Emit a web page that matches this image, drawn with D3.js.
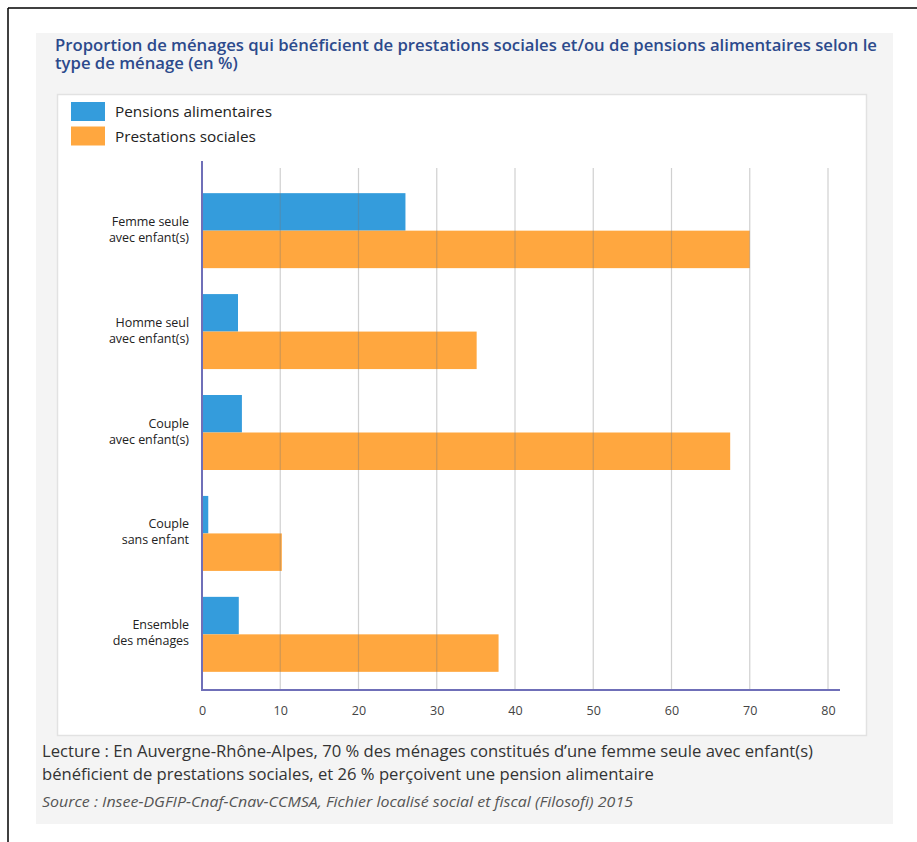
<!DOCTYPE html>
<html>
<head>
<meta charset="utf-8">
<script src="https://cdn.jsdelivr.net/npm/d3@7"></script>
<style>
  html, body { margin: 0; padding: 0; background: #fff; }
  svg { display: block; }
</style>
</head>
<body>
<svg id="chart" width="917" height="842"></svg>
<script>
const categories = [
  ["Femme seule", "avec enfant(s)"],
  ["Homme seul", "avec enfant(s)"],
  ["Couple", "avec enfant(s)"],
  ["Couple", "sans enfant"],
  ["Ensemble", "des ménages"]
];
const seriesNames = ["Pensions alimentaires", "Prestations sociales"];
const pensions = [26.0, 4.6, 5.1, 0.8, 4.7];
const prestations = [70.0, 35.1, 67.5, 10.2, 37.9];
const xTicks = [0, 10, 20, 30, 40, 50, 60, 70, 80];
const colors = ["#349cdc", "#ffa73f"];
const titleLines = [
  "Proportion de ménages qui bénéficient de prestations sociales et/ou de pensions alimentaires selon le",
  "type de ménage (en %)"
];
const noteLines = [
  "Lecture : En Auvergne-Rhône-Alpes, 70 % des ménages constitués d’une femme seule avec enfant(s)",
  "bénéficient de prestations sociales, et 26 % perçoivent une pension alimentaire"
];
const sourceText = "Source : Insee-DGFIP-Cnaf-Cnav-CCMSA, Fichier localisé social et fiscal (Filosofi) 2015";

const svg = d3.select("#chart");
const font = "'Open Sans', 'Noto Sans', sans-serif";

// scale a group of text nodes horizontally so that the reference node gets the target width
function fitGroup(nodes, refNode, target) {
  const r = target / refNode.getComputedTextLength();
  nodes.forEach(n => {
    const w = n.getComputedTextLength();
    d3.select(n).attr("textLength", w * r).attr("lengthAdjust", "spacingAndGlyphs");
  });
}

// outer frame lines (top and left)
svg.append("line").attr("x1", 8).attr("x2", 917).attr("y1", 8).attr("y2", 8)
  .attr("stroke", "#000").attr("stroke-width", 1.5);
svg.append("line").attr("x1", 8).attr("x2", 8).attr("y1", 8).attr("y2", 842)
  .attr("stroke", "#000").attr("stroke-width", 1.5);

// gray panel
svg.append("rect").attr("x", 36).attr("y", 33).attr("width", 857).attr("height", 791)
  .attr("fill", "#f4f4f4");

// title
const titleNodes = titleLines.map((t, i) =>
  svg.append("text").attr("x", 55).attr("y", 51 + i * 18)
    .attr("font-family", font).attr("font-weight", 600)
    .attr("font-size", 17).attr("fill", "#2c4a8c").text(t).node());
fitGroup(titleNodes, titleNodes[0], 822);

// white chart box
svg.append("rect").attr("x", 57.5).attr("y", 94.5).attr("width", 809).attr("height", 641)
  .attr("fill", "#fff").attr("stroke", "#e2e2e2").attr("stroke-width", 1.5);

// legend
const legend = svg.append("g");
const legNodes = [];
seriesNames.forEach((name, i) => {
  legend.append("rect").attr("x", 71).attr("y", 102 + i * 24.5).attr("width", 34).attr("height", 19)
    .attr("fill", colors[i]);
  legNodes.push(legend.append("text").attr("x", 115).attr("y", 117 + i * 24.5)
    .attr("font-family", font).attr("font-size", 14.5).attr("fill", "#222").text(name).node());
});
fitGroup(legNodes, legNodes[0], 157);

// scales
const x = d3.scaleLinear().domain([0, 80]).range([202, 828]);
const y = d3.scaleBand().domain(d3.range(categories.length)).range([175, 690])
  .paddingInner(0.257).paddingOuter(0.18);
const sub = d3.scaleBand().domain([0, 1]).range([0, y.bandwidth()]);

// bars
const data = categories.map((c, i) => ({ i, vals: [pensions[i], prestations[i]] }));
const groups = svg.append("g").selectAll("g").data(data).join("g")
  .attr("transform", d => `translate(0,${y(d.i)})`);
groups.selectAll("rect").data(d => d.vals.map((v, k) => ({ v, k }))).join("rect")
  .attr("x", x(0)).attr("y", d => sub(d.k)).attr("height", sub.bandwidth())
  .attr("width", d => x(d.v) - x(0)).attr("fill", d => colors[d.k]);

// gridlines (drawn over bars, semi-transparent)
svg.append("g").selectAll("line").data(xTicks.slice(1)).join("line")
  .attr("x1", d => x(d)).attr("x2", d => x(d)).attr("y1", 168).attr("y2", 690)
  .attr("stroke", "rgba(120,120,120,0.35)").attr("stroke-width", 1.2);

// axes lines
svg.append("line").attr("x1", x(0)).attr("x2", x(0)).attr("y1", 161).attr("y2", 691)
  .attr("stroke", "#6f6fb8").attr("stroke-width", 2);
svg.append("line").attr("x1", x(0) - 1).attr("x2", 840).attr("y1", 690).attr("y2", 690)
  .attr("stroke", "#6f6fb8").attr("stroke-width", 2);

// x axis tick labels via d3 axis
const xAxis = d3.axisBottom(x).tickValues(xTicks).tickSize(0).tickPadding(0).tickFormat(d3.format("d"));
const xg = svg.append("g").attr("transform", "translate(0,706)").call(xAxis);
xg.select(".domain").remove();
xg.selectAll("text").attr("font-family", font).attr("font-size", 12.5).attr("fill", "#444")
  .attr("dy", "0.71em");

// y labels
const yl = svg.append("g");
categories.forEach((lines, i) => {
  const cy = y(i) + y.bandwidth() / 2;
  lines.forEach((ln, j) => {
    yl.append("text").attr("text-anchor", "end")
      .attr("font-family", font).attr("font-size", 12.5).attr("fill", "#222")
      .attr("letter-spacing", -0.05)
      .attr("x", 189).attr("y", cy - 5 + j * 16).text(ln);
  });
});

// notes
const noteNodes = noteLines.map((t, i) =>
  svg.append("text").attr("x", 42).attr("y", 757 + i * 23)
    .attr("font-family", font).attr("font-size", 15.5).attr("fill", "#333")
    .text(t).node());
fitGroup(noteNodes, noteNodes[0], 771);

const srcNode = svg.append("text").attr("x", 42).attr("y", 807)
  .attr("font-family", font).attr("font-size", 14.5).attr("font-style", "italic")
  .attr("fill", "#555").text(sourceText).node();
fitGroup([srcNode], srcNode, 591);
</script>
</body>
</html>
